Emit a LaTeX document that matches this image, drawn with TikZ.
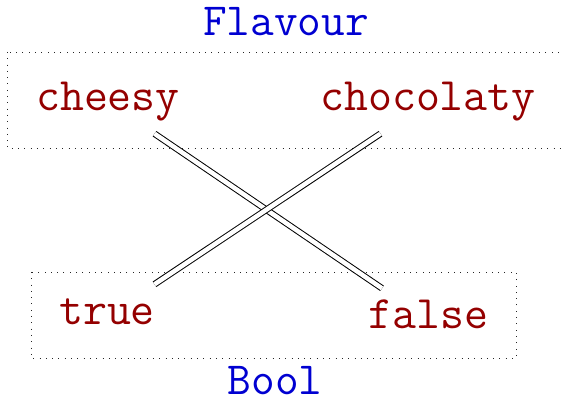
\documentclass[tikz,border=0pt]{standalone}
\begin{document}
\begin{tikzpicture}[x=1pt,y=-1pt,
  typename/.style={text=blue!82!black, font=\fontsize{46}{52}\selectfont\ttfamily,
    inner sep=0pt, anchor=base},
  value/.style={text=red!58!black, font=\fontsize{46.5}{52}\selectfont\ttfamily,
    text height=28.5pt, text depth=10.5pt, inner sep=12pt, anchor=base},
  group/.style={draw=black!85, line width=0.8pt, dash pattern=on 0.8pt off 5.5pt},
  link/.style={draw=black, line width=1pt, double=white, double distance=4.5pt}]
\useasboundingbox (0,0) rectangle (563,403);

% the two types, each a dotted group with its name outside
\draw[group] (7,52) rectangle (568,148);
\draw[group] (31,272) rectangle (516,358);
\node[typename] (flavour) at (286,36) {Flavour};
\node[typename] (bool) at (275,395) {Bool};

% values of each type
\node[value] (cheesy) at (108,111) {cheesy};
\node[value] (chocolaty) at (428,111) {chocolaty};
\node[value] (true) at (107,325) {true};
\node[value] (false) at (428.5,329) {false};

% the mapping between them
\draw[link] (cheesy) -- (false);
\draw[link] (chocolaty) -- (true);
\end{tikzpicture}
\end{document}
